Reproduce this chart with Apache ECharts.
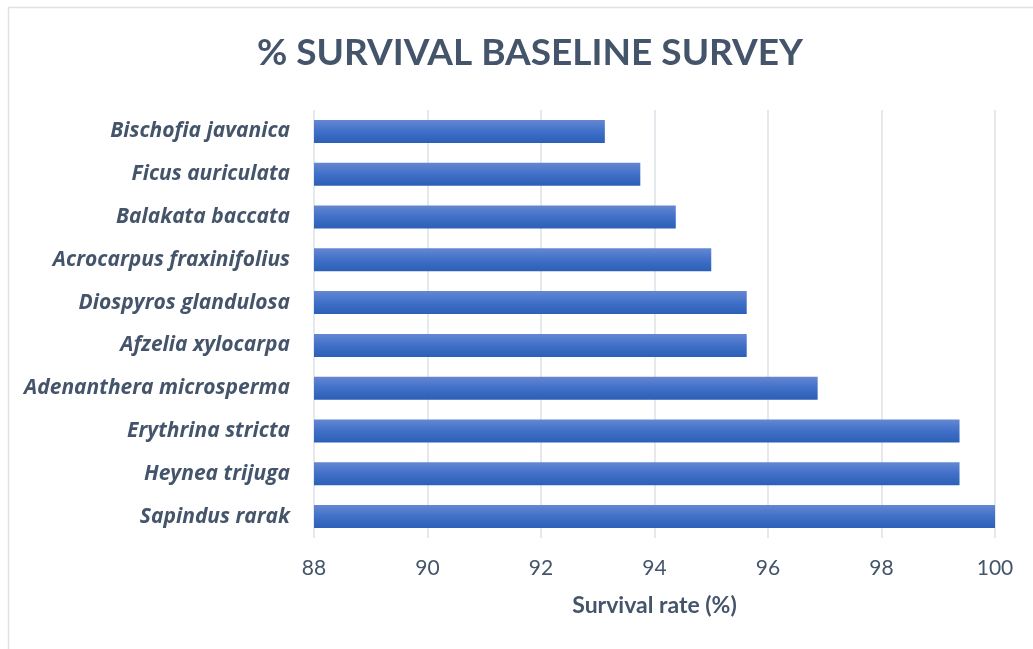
<!DOCTYPE html>
<html>
<head>
<meta charset="utf-8">
<script src="https://cdn.jsdelivr.net/npm/echarts@6/dist/echarts.min.js"></script>
<style>
html,body{margin:0;padding:0;background:#fff;}
#chart{width:1033px;height:649px;}
</style>
</head>
<body>
<div id="chart"></div>
<script>
// Categories listed bottom to top (as drawn on the category axis)
const species = [
  "Sapindus rarak",
  "Heynea trijuga",
  "Erythrina stricta",
  "Adenanthera microsperma",
  "Afzelia xylocarpa",
  "Diospyros glandulosa",
  "Acrocarpus fraxinifolius",
  "Balakata baccata",
  "Ficus auriculata",
  "Bischofia javanica"
];
const survivalRate = [100, 99.375, 99.375, 96.875, 95.625, 95.625, 95.0, 94.375, 93.75, 93.125];
const titleText = "% SURVIVAL BASELINE SURVEY";
const xAxisName = "Survival rate (%)";

const textColor = "#44546A";
const chart = echarts.init(document.getElementById('chart'), null, {renderer: 'canvas'});
chart.setOption({
  animation: false,
  backgroundColor: '#ffffff',
  graphic: [{
    type: 'rect',
    left: 6, top: 5,
    shape: {width: 1040, height: 660},
    style: {fill: 'none', stroke: '#dde2e8', lineWidth: 1.5},
    silent: true
  }],
  title: {
    text: titleText,
    left: 525,
    top: 30,
    textAlign: 'center',
    textStyle: {
      fontFamily: 'Lato',
      fontWeight: 'bold',
      fontSize: 37,
      color: textColor
    }
  },
  grid: {left: 314, right: 38, top: 110, bottom: 111, containLabel: false},
  xAxis: {
    type: 'value',
    min: 88,
    max: 100,
    interval: 2,
    name: xAxisName,
    nameLocation: 'middle',
    nameGap: 56,
    nameTextStyle: {fontFamily: 'Lato', fontWeight: 'bold', fontSize: 23, color: textColor},
    axisLine: {show: false},
    axisTick: {show: false},
    axisLabel: {fontFamily: 'Lato', fontSize: 21, color: textColor, margin: 20},
    splitLine: {show: true, lineStyle: {color: '#dde1e7', width: 1.5}}
  },
  yAxis: {
    type: 'category',
    data: species,
    axisLine: {show: false},
    axisTick: {show: false},
    axisLabel: {
      fontFamily: 'Open Sans', fontSize: 21, fontWeight: 'bold', fontStyle: 'italic',
      color: textColor, margin: 24
    }
  },
  series: [{
    type: 'bar',
    data: survivalRate,
    barWidth: 23,
    itemStyle: {
      color: new echarts.graphic.LinearGradient(0, 0, 0, 1, [
        {offset: 0, color: '#6587d2'},
        {offset: 0.5, color: '#4070c8'},
        {offset: 1, color: '#2c5fb7'}
      ])
    }
  }]
});
</script>
</body>
</html>
